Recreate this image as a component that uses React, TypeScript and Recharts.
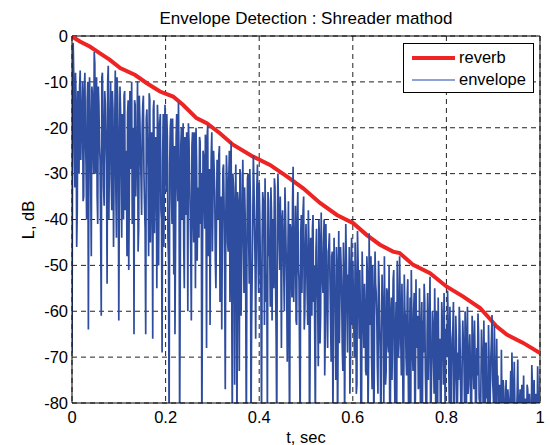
import { CartesianGrid, Line, LineChart, ReferenceLine, XAxis, YAxis } from "recharts";

// reverb decay curve (red)
const REVERB_T = [
  0, 0.006, 0.017, 0.038, 0.06, 0.081, 0.103, 0.135, 0.16, 0.188, 0.216, 0.237, 0.266, 0.288, 0.316, 0.344, 0.387, 0.423,
  0.459, 0.494, 0.53, 0.566, 0.601, 0.63, 0.658, 0.686, 0.7, 0.729, 0.765, 0.8, 0.836, 0.872, 0.907, 0.929, 0.964, 1.0,
];
const REVERB_DB = [
  0, -0.5, -1.2, -2.3, -3.8, -5.2, -7.0, -8.5, -10.3, -12.1, -13.2, -15.0, -17.9, -19.0, -21.2, -23.7, -26.3, -28.1,
  -30.6, -33.2, -36.4, -39.0, -40.8, -43.4, -45.5, -47.0, -47.3, -49.9, -51.7, -54.6, -56.8, -59.3, -63.3, -65.1, -66.9, -69.1,
];

// envelope samples (blue) at t = i/400
const ENVELOPE_DB = [
  -69, -1.5, -25, -8, -46, -12, -30, -7.5, -20, -10, -35, -8, -28, -14, -64, -9, -32, -11, -24, -3.5,
  -30, -9, -41, -15, -27, -61, -8, -33, -12, -22, -54, -6.5, -26, -10, -38, -16, -29, -7.5, -44, -13,
  -62, -11, -30, -17, -40, -12, -25, -48, -14, -33, -19, -10, -36, -65, -15, -28, -9.8, -42, -18, -31,
  -20, -13, -37, -65, -16, -29, -12.5, -45, -21, -66, -14, -33, -24, -15, -50, -19, -38, -69, -17, -28,
  -26, -17, -44, -86, -20, -35, -18, -52, -65, -22, -31, -14.5, -88, -24, -40, -19, -55, -28, -21, -60,
  -23, -38, -62, -21, -45, -27, -20, -49, -33, -22, -41, -90, -25, -36, -21.5, -68, -19.5, -43, -63, -26,
  -47, -25, -34, -55, -27, -40, -24, -51, -64, -29, -37, -77, -26, -45, -31, -58, -23, -86, -33, -76,
  -28, -90, -36, -73, -30, -48, -27, -56, -39, -88, -31, -44, -29, -86, -52, -26, -41, -66, -33, -47,
  -32, -50, -85, -34, -43, -31, -58, -84, -36, -47, -33, -62, -40, -31, -54, -87, -30, -45, -35, -68,
  -38, -52, -33, -47, -71, -36, -88, -42, -57, -28.5, -49, -37, -63, -34, -53, -86, -39, -46, -35, -60,
  -41, -56, -38, -90, -44, -61, -39, -50, -85, -42, -58, -40, -67, -38.5, -53, -45, -74, -41, -59, -47,
  -43, -62, -48, -84, -44, -55, -46, -89, -42.5, -57, -50, -68, -45, -85, -41, -60, -52, -46, -71, -44,
  -49, -65, -45, -78, -42.5, -58, -51, -86, -47, -62, -54, -73, -48, -83, -43, -60, -69, -50, -90, -47,
  -56, -72, -49, -64, -87, -52, -59, -48, -76, -55, -67, -50, -88, -57, -63, -51, -80, -58, -49, -70,
  -48, -66, -54, -85, -52, -61, -74, -53, -90, -57, -51, -69, -60, -82, -53, -64, -77, -55, -87, -58,
  -62, -54, -73, -89, -56, -67, -52.5, -79, -60, -70, -55, -86, -63, -57, -75, -90, -58, -68, -56, -83,
  -64, -55.5, -72, -59, -88, -66, -58, -77, -61, -90, -69, -59, -74, -85, -62, -71, -60, -87, -59, -76,
  -65, -89, -61, -73, -62, -84, -68, -60.5, -79, -90, -64, -71, -62, -86, -67, -75, -63, -88, -70, -60.8,
  -78, -63, -85, -66, -74, -90, -80, -68.4, -86, -77, -90, -75, -84, -79, -88, -73, -69, -84, -71, -89,
  -82, -70.5, -86, -77, -90, -79, -74, -88, -81, -76, -90, -78, -84, -71.7, -87, -75, -82, -89, -72, -80, -74,
];

// envelope samples (blue) in between, at t = (i + 0.5)/400
const ENVELOPE_DB_MID = [
  -20, -9, -33, -14, -38, -18, -11, -27, -16, -36, -12, -22, -40, -10, -26, -17, -48, -13, -30, -6,
  -14, -35, -11, -24, -43, -9, -19, -37, -15, -28, -10, -40, -18, -31, -12, -46, -21, -34, -9, -25,
  -33, -16, -44, -22, -13, -38, -27, -17, -51, -12, -29, -41, -20, -14, -35, -24, -47, -13, -26, -39,
  -15, -30, -42, -18, -24, -48, -14, -35, -27, -16, -43, -22, -55, -19, -31, -17, -40, -26, -46, -15,
  -34, -22, -49, -28, -18, -41, -30, -24, -45, -17, -36, -27, -53, -20, -33, -46, -22, -39, -29, -19,
  -31, -47, -24, -39, -21, -55, -28, -36, -44, -23, -30, -51, -26, -42, -34, -22, -48, -29, -38, -21,
  -36, -29, -49, -41, -33, -26, -58, -35, -44, -28, -52, -39, -31, -47, -25, -40, -55, -30, -43, -37,
  -45, -34, -52, -29, -61, -38, -42, -33, -57, -47, -30, -54, -37, -63, -41, -32, -50, -44, -28, -56,
  -39, -57, -45, -36, -63, -41, -52, -34, -48, -59, -38, -44, -55, -33, -66, -42, -37, -51, -46, -40,
  -44, -60, -39, -55, -48, -66, -41, -52, -36, -58, -45, -62, -40, -50, -69, -43, -56, -38, -64, -47,
  -48, -63, -45, -70, -51, -42, -58, -66, -47, -54, -72, -44, -61, -49, -56, -40, -65, -52, -68, -46,
  -53, -71, -47, -64, -58, -75, -50, -60, -67, -46, -56, -73, -52, -62, -49, -69, -57, -78, -50, -63,
  -57, -70, -53, -76, -49, -66, -61, -80, -55, -68, -59, -74, -52, -71, -63, -48, -77, -58, -65, -54,
  -61, -78, -54, -70, -66, -58, -82, -62, -73, -56, -69, -79, -60, -75, -53, -71, -65, -84, -59, -67,
  -58, -74, -63, -80, -60, -70, -57, -77, -66, -84, -62, -73, -56, -79, -68, -61, -76, -70, -64, -81,
  -69, -58, -80, -65, -75, -61, -84, -71, -63, -78, -67, -60, -82, -73, -66, -79, -62, -76, -70, -64,
  -70, -62, -81, -68, -76, -64, -85, -72, -66, -79, -75, -63, -83, -70, -67, -80, -73, -65, -78, -69,
  -72, -81, -66, -77, -70, -86, -74, -65, -80, -76, -69, -84, -73, -67, -79, -88, -71, -78, -66, -75,
  -82, -72, -88, -78, -84, -76, -92, -81, -75, -86, -80, -90, -77, -83, -79, -91, -76, -85, -80, -88,
  -78, -84, -80, -91, -76, -83, -86, -79, -92, -77, -85, -81, -88, -76, -82, -90, -78, -84, -79, -86,
];

const X_TICKS = [0, 0.2, 0.4, 0.6, 0.8, 1];
const Y_TICKS = [0, -10, -20, -30, -40, -50, -60, -70, -80];

const SAMPLE_STEP = 1 / (ENVELOPE_DB.length - 1);

const reverbData = REVERB_T.map((t, i) => ({ t, db: REVERB_DB[i] }));
const envelopeData = ENVELOPE_DB.flatMap((db, i) => {
  const pts = [{ t: i * SAMPLE_STEP, db }];
  if (i < ENVELOPE_DB_MID.length) pts.push({ t: (i + 0.5) * SAMPLE_STEP, db: ENVELOPE_DB_MID[i] });
  return pts;
});

const FONT = "'Liberation Sans', Arial, sans-serif";
const RED = "#ee2424";
const BLUE = "#2e4d9f";

export default function App() {
  const tickStyle = { fill: "#000", fontSize: 16.5, fontFamily: FONT };
  return (
    <div style={{ position: "absolute", left: 0, top: 0, width: 550, height: 445, background: "#fff" }}>
      <LineChart width={550} height={445} margin={{ top: 36, right: 10, bottom: 17, left: 32 }}>
        <CartesianGrid stroke="#222" strokeDasharray="5 4" />
        <XAxis
          type="number"
          dataKey="t"
          domain={[0, 1]}
          ticks={X_TICKS}
          allowDataOverflow
          height={25}
          tick={tickStyle}
          tickLine={false}
          tickSize={4}
          tickMargin={4}
          axisLine={{ stroke: "#000" }}
          tickFormatter={(v: number) => String(v)}
        />
        <YAxis
          type="number"
          dataKey="db"
          domain={[-80, 0]}
          ticks={Y_TICKS}
          allowDataOverflow
          width={40}
          tick={tickStyle}
          tickLine={false}
          tickSize={2}
          tickMargin={2}
          axisLine={{ stroke: "#000" }}
        />
        <ReferenceLine y={0} stroke="#000" />
        <ReferenceLine x={1} stroke="#000" />
        <Line
          data={reverbData}
          dataKey="db"
          type="linear"
          stroke={RED}
          strokeWidth={4}
          dot={false}
          isAnimationActive={false}
        />
        <Line
          data={envelopeData}
          dataKey="db"
          type="linear"
          stroke={BLUE}
          strokeWidth={1.7}
          strokeLinejoin="miter"
          dot={false}
          isAnimationActive={false}
        />
      </LineChart>

      <svg width={550} height={445} style={{ position: "absolute", left: 0, top: 0, pointerEvents: "none" }}>
        <text x={306} y={24} textAnchor="middle" fontSize={17} fontFamily={FONT} fill="#000">
          Envelope Detection : Shreader mathod
        </text>
        <text x={306} y={443} textAnchor="middle" fontSize={16.5} fontFamily={FONT} fill="#000">
          t, sec
        </text>
        <text transform="translate(34,220) rotate(-90)" textAnchor="middle" fontSize={16.5} fontFamily={FONT} fill="#000">
          L, dB
        </text>
      </svg>

      <div
        style={{
          position: "absolute",
          left: 403,
          top: 43,
          width: 129,
          height: 48,
          background: "#fff",
          border: "1.5px solid #000",
          fontFamily: FONT,
          fontSize: 16.5,
          color: "#000",
        }}
      >
        <div style={{ position: "absolute", left: 8, top: 12, width: 43, height: 4, background: RED }} />
        <div style={{ position: "absolute", left: 55, top: 3, lineHeight: "20px" }}>reverb</div>
        <div style={{ position: "absolute", left: 8, top: 35, width: 43, height: 1.5, background: "#8ea2d4" }} />
        <div style={{ position: "absolute", left: 55, top: 25, lineHeight: "20px" }}>envelope</div>
      </div>
    </div>
  );
}
